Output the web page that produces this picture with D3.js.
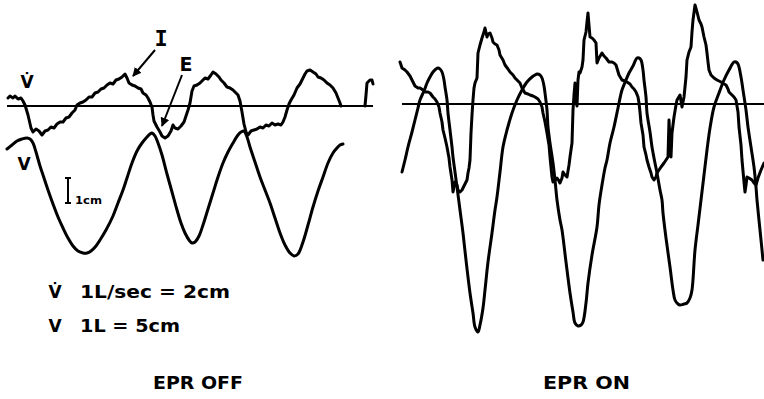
<!DOCTYPE html>
<html>
<head>
<meta charset="utf-8">
<script src="https://cdn.jsdelivr.net/npm/d3@7"></script>
<style>
  html, body { margin: 0; padding: 0; background: #fff; }
  svg { display: block; }
  text { font-family: "DejaVu Sans", sans-serif; font-weight: bold; fill: #000; }
</style>
</head>
<body>
<div id="chart"></div>
<script>
// Traces. t = chart units from the left edge of each panel,
// v = deflection from the zero-flow baseline (chart units, up is positive, 25 units = 1 cm)

// EPR OFF : flow (V dot)
const offFlow = [
  [1,8],[3,10],[6,8],[8,10],[11,7],[14,8],[16,5],[18,1],[21,-9],[24,-22],[26,-26],[29,-23],
  [32,-25],[35,-29],[38,-25],[41,-24],[44,-21],[47,-22],[50,-18],[53,-16],[56,-16],[59,-12],
  [62,-11],[65,-7],[68,-4],[70,1],[73,3],[76,4],[79,6],[82,9],[85,9],[88,13],[91,14],[94,17],
  [97,18],[100,21],[103,23],[106,22],[109,26],[112,27],[115,29],[118,32],[120,28],[122,23],
  [125,21],[128,20],[131,18],[134,17],[136,13],[139,11],[141,8],[143,4],[145,-1],[146,-9],
  [147,-15],[150,-21],[153,-26],[155,-30],[158,-32],[161,-30],[164,-25],[166,-19],[168,-22],
  [171,-23],[174,-20],[177,-16],[179,-10],[181,-4],[183,3],[185,15],[187,20],[190,21],[193,23],
  [196,26],[198,28],[201,27],[204,31],[206,34],[209,32],[212,29],[214,26],[217,23],[220,19],
  [223,18],[226,16],[228,14],[231,11],[233,5],[235,-6],[237,-18],[239,-26],[241,-29],[244,-25],
  [247,-24],[250,-23],[253,-21],[256,-22],[259,-19],[262,-20],[265,-17],[268,-19],[271,-18],
  [274,-19],[276,-16],[278,-11],[280,-4],[282,2],[284,6],[287,11],[290,18],[293,22],[295,26],
  [298,32],[300,35],[303,36],[306,34],[309,32],[311,29],[314,28],[317,26],[320,23],[323,21],
  [326,18],[329,13],[331,8],[333,3],[334,0]
];
const offFlowTail = [[358,0],[359,11],[360,23],[363,26],[365,26],[366,22]];

// EPR OFF : volume (V)
const offVol = [
  [0,-43],[5,-39],[10,-35],[15,-33],[20,-32],[23,-33],[26,-37],[29,-46],[33,-60],[36,-69],
  [41,-84],[46,-98],[51,-111],[56,-122],[61,-132],[66,-140],[71,-145],[76,-147],[80,-147],
  [84,-145],[89,-140],[93,-134],[99,-124],[106,-110],[111,-97],[116,-84],[120,-72],[125,-57],
  [130,-45],[135,-37],[140,-31],[143,-28],[145,-27],[148,-30],[151,-37],[155,-49],[160,-68],
  [165,-86],[170,-104],[174,-117],[178,-127],[182,-134],[185,-137],[188,-136],[192,-130],
  [196,-119],[201,-103],[206,-87],[211,-71],[216,-57],[221,-46],[226,-37],[231,-29],[234,-26],
  [237,-25],[240,-31],[243,-41],[248,-56],[253,-71],[258,-84],[263,-97],[268,-112],[273,-127],
  [278,-139],[283,-147],[287,-150],[291,-148],[296,-136],[301,-119],[306,-101],[311,-85],
  [316,-71],[321,-57],[326,-47],[330,-42],[333,-39],[336,-38]
];

// EPR ON : flow (V dot)
const onFlow = [
  [0,42],[2,36],[5,34],[7,32],[10,28],[12,24],[15,18],[18,16],[20,16],[23,14],[25,12],[28,12],
  [30,11],[33,7],[35,5],[37,2],[39,-3],[40,-9],[42,-18],[43,-26],[45,-34],[47,-43],[49,-54],
  [50,-63],[52,-76],[53,-88],[55,-78],[57,-81],[58,-86],[60,-88],[62,-86],[63,-84],[65,-80],
  [67,-76],[68,-69],[69,-64],[70,-56],[71,-29],[72,-11],[73,4],[74,16],[75,21],[77,26],[78,51],
  [80,59],[82,66],[84,72],[85,76],[87,67],[88,70],[90,71],[92,66],[93,62],[95,60],[97,59],
  [99,54],[100,49],[103,44],[105,39],[108,35],[110,32],[113,29],[115,26],[118,23],[120,21],
  [122,16],[125,11],[128,10],[130,9],[133,8],[135,7],[138,5],[140,2],[142,-3],[143,-9],
  [145,-18],[147,-29],[149,-41],[150,-53],[151,-63],[152,-73],[153,-78],[155,-76],[157,-74],
  [159,-77],[160,-79],[162,-74],[163,-68],[165,-71],[167,-73],[169,-61],[170,-53],[172,-39],
  [173,-6],[174,9],[175,21],[176,4],[177,-2],[178,24],[179,32],[180,31],[182,37],[183,44],
  [184,64],[186,72],[187,82],[188,91],[189,79],[190,67],[192,66],[194,64],[196,61],[197,41],
  [199,46],[202,51],[204,48],[206,46],[209,42],[212,42],[214,41],[216,39],[219,29],[222,24],
  [225,23],[227,22],[230,20],[232,17],[234,15],[236,12],[238,7],[239,1],[240,-8],[241,-19],
  [243,-31],[244,-43],[246,-51],[247,-56],[249,-63],[251,-69],[252,-73],[254,-76],[256,-73],
  [257,-69],[259,-66],[261,-63],[264,-59],[266,-56],[268,-53],[269,-16],[270,-36],[271,-53],
  [272,-29],[274,-13],[276,-1],[277,4],[280,9],[282,-3],[284,7],[286,27],[287,44],[289,52],
  [291,57],[292,72],[293,84],[295,99],[297,92],[299,84],[301,80],[302,77],[304,67],[306,59],
  [307,51],[308,42],[309,34],[311,29],[314,26],[317,24],[321,22],[324,20],[326,19],[328,15],
  [329,12],[331,10],[332,9],[334,7],[336,4],[338,-8],[339,-23],[341,-41],[342,-56],[344,-78],
  [345,-88],[346,-81],[347,-73],[349,-74],[352,-76],[354,-79],[356,-81],[358,-74],[361,-66],
  [364,-59]
];

// EPR ON : volume (V)
const onVol = [
  [2,-68],[5,-56],[8,-43],[12,-28],[15,-16],[18,-4],[20,4],[24,13],[27,21],[30,27],[33,32],
  [36,35],[38,36],[40,35],[42,32],[44,24],[45,17],[47,4],[48,-9],[50,-26],[52,-43],[53,-53],
  [55,-68],[57,-83],[60,-106],[63,-129],[66,-156],[70,-189],[73,-209],[75,-223],[78,-228],
  [80,-221],[83,-204],[85,-186],[88,-158],[92,-129],[95,-106],[97,-93],[100,-68],[103,-43],
  [107,-26],[112,-9],[117,4],[122,14],[127,22],[132,27],[135,29],[137,30],[140,29],[142,26],
  [144,18],[145,11],[147,-6],[148,-23],[150,-39],[153,-59],[155,-76],[157,-96],[160,-116],
  [162,-126],[166,-158],[170,-189],[173,-208],[175,-219],[178,-222],[181,-221],[183,-218],
  [186,-199],[188,-179],[192,-151],[197,-123],[199,-101],[202,-81],[205,-64],[207,-56],
  [210,-39],[214,-23],[218,-4],[222,14],[226,24],[229,31],[233,38],[237,46],[239,46],[241,44],
  [243,34],[244,24],[246,7],[247,-9],[250,-28],[252,-43],[255,-59],[257,-69],[260,-86],
  [262,-96],[263,-109],[266,-134],[270,-163],[273,-186],[275,-196],[278,-200],[280,-201],
  [284,-200],[287,-199],[290,-194],[292,-186],[295,-146],[298,-121],[301,-96],[304,-71],
  [307,-46],[310,-24],[314,-3],[319,11],[324,24],[329,34],[334,42],[336,42],[338,40],[341,27],
  [343,14],[346,-6],[348,-23],[351,-43],[354,-63],[356,-83],[357,-96],[360,-126],[363,-156]
];

// baseline extents and calibration
const offBaseline = [0, 366];
const onBaseline = [2, 364];
const calBar = [-72, -97]; // 1 cm

// labels
const scaleLabels = ["1L/sec = 2cm", "1L = 5cm"];
const panelTitles = ["EPR OFF", "EPR ON"];

const width = 764, height = 399;

const svg = d3.select("#chart")
  .append("svg")
  .attr("width", width)
  .attr("height", height)
  .style("background", "#fff");

svg.append("defs").append("marker")
  .attr("id", "head")
  .attr("viewBox", "0 0 10 10")
  .attr("refX", 9)
  .attr("refY", 5)
  .attr("markerWidth", 4.5)
  .attr("markerHeight", 4.5)
  .attr("orient", "auto")
  .append("path")
  .attr("d", "M0,0 L10,5 L0,10 Z")
  .attr("fill", "#000");

// one scale pair per panel
const xOff = d3.scaleLinear().domain([0, 366]).range([7, 373]);
const yOff = d3.scaleLinear().domain([0, 100]).range([106, 6]);
const xOn = d3.scaleLinear().domain([0, 364]).range([400, 764]);
const yOn = d3.scaleLinear().domain([0, 100]).range([104, 4]);

function drawTrace(data, x, y, curve, w) {
  const line = d3.line()
    .x(d => x(d[0]))
    .y(d => y(d[1]))
    .curve(curve);
  svg.append("path")
    .datum(data)
    .attr("d", line)
    .attr("fill", "none")
    .attr("stroke", "#000")
    .attr("stroke-width", w)
    .attr("stroke-linejoin", "round")
    .attr("stroke-linecap", "round");
}

function drawBaseline(ext, x, y) {
  svg.append("line")
    .attr("x1", x(ext[0])).attr("x2", x(ext[1]))
    .attr("y1", y(0)).attr("y2", y(0))
    .attr("stroke", "#000")
    .attr("stroke-width", 2);
}

// left panel
drawBaseline(offBaseline, xOff, yOff);
drawTrace(offFlow, xOff, yOff, d3.curveLinear, 3);
drawTrace(offFlowTail, xOff, yOff, d3.curveLinear, 3);
drawTrace(offVol, xOff, yOff, d3.curveCatmullRom, 3);

// right panel
drawBaseline(onBaseline, xOn, yOn);
drawTrace(onVol, xOn, yOn, d3.curveCatmullRom, 3);
drawTrace(onFlow, xOn, yOn, d3.curveLinear, 3);

// I / E arrows
svg.append("line")
  .attr("x1", xOff(148)).attr("y1", yOff(56))
  .attr("x2", xOff(126)).attr("y2", yOff(30))
  .attr("stroke", "#000").attr("stroke-width", 2)
  .attr("marker-end", "url(#head)");
svg.append("line")
  .attr("x1", xOff(175)).attr("y1", yOff(31))
  .attr("x2", xOff(155)).attr("y2", yOff(-20))
  .attr("stroke", "#000").attr("stroke-width", 2)
  .attr("marker-end", "url(#head)");

svg.append("text")
  .attr("x", xOff(154)).attr("y", 46)
  .attr("text-anchor", "middle")
  .style("font-family", "'DejaVu Sans Mono', monospace")
  .style("font-size", "22px")
  .text("I");
svg.append("text")
  .attr("x", xOff(179)).attr("y", 71)
  .attr("text-anchor", "middle")
  .style("font-size", "19px")
  .text("E");

// trace labels
svg.append("text")
  .attr("x", 27).attr("y", 88)
  .attr("text-anchor", "middle")
  .style("font-size", "17px")
  .text("V\u0307");
svg.append("text")
  .attr("x", 24).attr("y", 170)
  .attr("text-anchor", "middle")
  .style("font-size", "17px")
  .text("V");

// 1 cm calibration bar
const calX = xOff(61);
svg.append("line")
  .attr("x1", calX).attr("x2", calX)
  .attr("y1", yOff(calBar[0])).attr("y2", yOff(calBar[1]))
  .attr("stroke", "#000").attr("stroke-width", 2);
calBar.forEach(v => {
  svg.append("line")
    .attr("x1", calX - 3).attr("x2", calX + 3)
    .attr("y1", yOff(v)).attr("y2", yOff(v))
    .attr("stroke", "#000").attr("stroke-width", 2);
});
svg.append("text")
  .attr("x", 75).attr("y", 204)
  .style("font-size", "10px")
  .attr("textLength", 27)
  .attr("lengthAdjust", "spacingAndGlyphs")
  .text("1cm");

// scale legend
svg.append("text").attr("x", 55).attr("y", 298)
  .attr("text-anchor", "middle").style("font-size", "17px").text("V\u0307");
svg.append("text").attr("x", 80).attr("y", 298)
  .style("font-size", "17px")
  .attr("textLength", 150).attr("lengthAdjust", "spacingAndGlyphs")
  .text(scaleLabels[0]);
svg.append("text").attr("x", 55).attr("y", 332)
  .attr("text-anchor", "middle").style("font-size", "17px").text("V");
svg.append("text").attr("x", 80).attr("y", 332)
  .style("font-size", "17px")
  .attr("textLength", 100).attr("lengthAdjust", "spacingAndGlyphs")
  .text(scaleLabels[1]);

// panel titles
svg.append("text").attr("x", 153).attr("y", 389)
  .style("font-size", "18px")
  .attr("textLength", 90).attr("lengthAdjust", "spacingAndGlyphs")
  .text(panelTitles[0]);
svg.append("text").attr("x", 543).attr("y", 389)
  .style("font-size", "18px")
  .attr("textLength", 87).attr("lengthAdjust", "spacingAndGlyphs")
  .text(panelTitles[1]);
</script>
</body>
</html>
